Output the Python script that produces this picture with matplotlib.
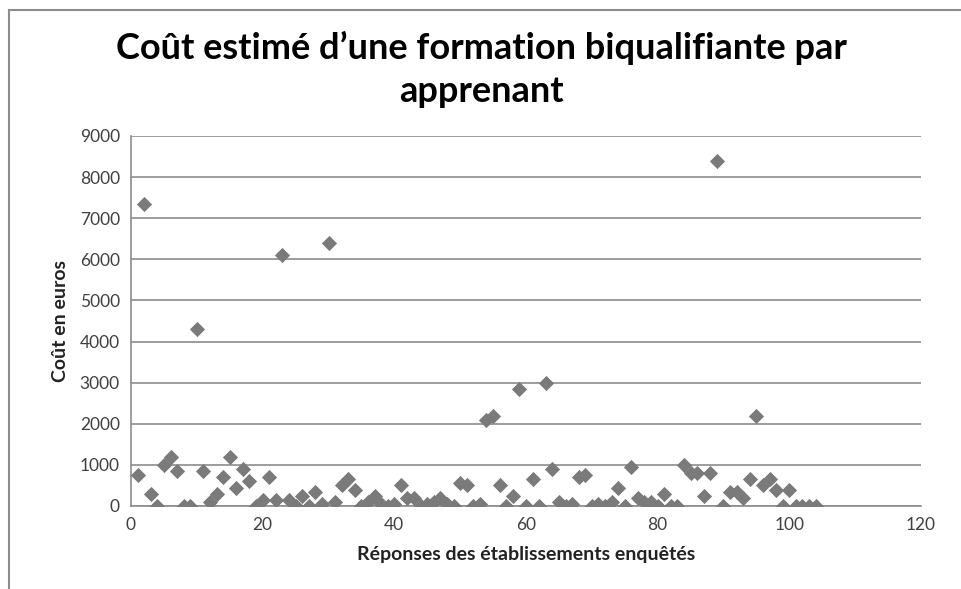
import matplotlib
matplotlib.use('Agg')
import matplotlib.pyplot as plt
from matplotlib.lines import Line2D

# data
reponses = list(range(1, 105))
cout = [750, 7350, 300, 0, 1000, 1200, 850, 0, 0, 4300,
        850, 100, 300, 700, 1200, 450, 900, 600, 0, 150,
        700, 150, 6100, 150, 0, 250, 0, 350, 50, 6400,
        100, 500, 650, 400, 0, 100, 250, 50, 0, 50,
        500, 200, 200, 0, 50, 100, 200, 50, 0, 550,
        500, 0, 50, 2100, 2200, 500, 0, 250, 2850, 0,
        650, 0, 3000, 900, 100, 0, 50, 700, 750, 0,
        50, 0, 100, 450, 0, 950, 200, 100, 100, 0,
        300, 0, 0, 1000, 800, 800, 250, 800, 8400, 0,
        350, 350, 200, 650, 2200, 500, 650, 400, 0, 400,
        0, 0, 0, 0]

x_ticks = [0, 20, 40, 60, 80, 100, 120]
y_ticks = [0, 1000, 2000, 3000, 4000, 5000, 6000, 7000, 8000, 9000]

plt.rcParams['font.family'] = ['Lato', 'DejaVu Sans']

fig = plt.figure(figsize=(9.62, 5.89), dpi=100)
ax = fig.add_axes([131/962, 1 - 506/589, 790/962, 370/589])

ax.scatter(reponses, cout, marker='D', s=60, color='#7a7a7a', zorder=3, linewidths=0)

ax.set_xlim(0, 120)
ax.set_ylim(0, 9000)
ax.set_xticks(x_ticks)
ax.set_yticks(y_ticks)
ax.tick_params(axis='both', length=0, labelsize=12.5, colors='#404040', pad=8)
ax.grid(axis='y', color='#8c8c8c', linewidth=1.2)
ax.set_axisbelow(True)
for s in ['top', 'right']:
    ax.spines[s].set_visible(False)
for s in ['left', 'bottom']:
    ax.spines[s].set_color('#8c8c8c')
    ax.spines[s].set_linewidth(1.2)

ax.set_xlabel('Réponses des établissements enquêtés', fontsize=14, fontweight='bold',
              color='#222222', labelpad=9)
ax.set_ylabel('Coût en euros', fontsize=14, fontweight='bold', color='#222222', labelpad=8)

fig.text(0.5, 1 - 48/589, 'Coût estimé d’une formation biqualifiante par',
         ha='center', va='center', fontsize=26, fontweight='bold', color='black')
fig.text(0.5, 1 - 92/589, 'apprenant',
         ha='center', va='center', fontsize=26, fontweight='bold', color='black')

# chart area border
fig.add_artist(Line2D([9/962, 9/962], [0, 1 - 10/589], transform=fig.transFigure,
                      color='#8c8c8c', linewidth=1.5))
fig.add_artist(Line2D([9/962, 1], [1 - 10/589, 1 - 10/589], transform=fig.transFigure,
                      color='#8c8c8c', linewidth=1.5))

fig.savefig('out.png', dpi=100)
